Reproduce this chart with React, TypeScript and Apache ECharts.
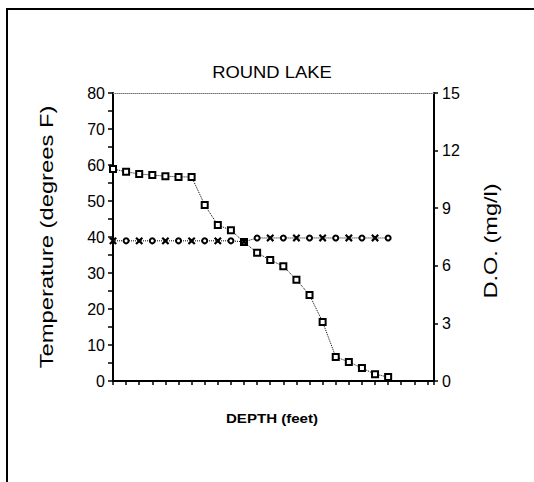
import React, { useEffect, useRef } from "react";
import * as echarts from "echarts";

const depth = [0, 1, 2, 3, 4, 5, 6, 7, 8, 9, 10, 11, 12, 13, 14, 15, 16, 17, 18, 19, 20, 21];
const temperature = [58.9, 58.1, 57.5, 57.2, 56.9, 56.7, 56.7, 48.9, 43.3, 41.9, 38.6, 35.6, 33.6, 31.9, 28.1, 23.9, 16.4, 6.7, 5.3, 3.6, 1.9, 1.1];
const dissolvedOxygen = [7.3, 7.3, 7.3, 7.3, 7.3, 7.3, 7.3, 7.3, 7.3, 7.3, 7.25, 7.45, 7.45, 7.45, 7.45, 7.45, 7.45, 7.45, 7.45, 7.45, 7.45, 7.45];
const title = "ROUND LAKE";
const xName = "DEPTH (feet)";
const yLeftName = "Temperature (degrees F)";
const yRightName = "D.O. (mg/l)";

const FONT = "'Liberation Sans', Arial, Helvetica, sans-serif";
const X_PATH = "path://M0,1L1,0L5,4L9,0L10,1L6,5L10,9L9,10L5,6L1,10L0,9L4,5Z";

export default function App() {
  const ref = useRef<HTMLDivElement>(null);
  useEffect(() => {
    if (!ref.current) return;
    const chart = echarts.init(ref.current, null, { renderer: "svg" });
    const tempData = depth.map((d, i) => [d, temperature[i]]);
    const doData = depth.map((d, i) => ({
      value: [d, dissolvedOxygen[i]],
      symbol: i % 2 === 0 ? X_PATH : "emptyCircle",
      symbolSize: i % 2 === 0 ? 6 : 5,
    }));
    chart.setOption({
      animation: false,
      backgroundColor: "#fff",
      textStyle: { fontFamily: FONT, color: "#000" },
      grid: { left: 113, right: 100, top: 93, bottom: 101 },
      xAxis: [
        {
          type: "value",
          min: 0,
          max: 24.5,
          interval: 1,
          position: "bottom",
          axisLine: { show: true, onZero: false, lineStyle: { color: "#000", width: 2 } },
          axisTick: { show: true, length: 4, lineStyle: { color: "#000", width: 1.5 } },
          axisLabel: { show: false },
          splitLine: { show: false },
        },
        {
          type: "value",
          min: 0,
          max: 24.5,
          position: "top",
          axisLine: { show: true, onZero: false, lineStyle: { color: "#777", width: 1, type: "dotted" } },
          axisTick: { show: false },
          axisLabel: { show: false },
          splitLine: { show: false },
        },
      ],
      yAxis: [
        {
          type: "value",
          min: 0,
          max: 80,
          interval: 10,
          position: "left",
          axisLine: { show: true, onZero: false, lineStyle: { color: "#000", width: 2 } },
          axisTick: { show: true, length: 5, lineStyle: { color: "#000", width: 1.5 } },
          minorTick: { show: true, splitNumber: 2, length: 5, lineStyle: { color: "#000", width: 1.5 } },
          axisLabel: { fontFamily: FONT, fontSize: 16, color: "#000", margin: 8 },
          splitLine: { show: false },
        },
        {
          type: "value",
          min: 0,
          max: 15,
          interval: 3,
          position: "right",
          axisLine: { show: true, onZero: false, lineStyle: { color: "#000", width: 2 } },
          axisTick: { show: true, length: 4, lineStyle: { color: "#000", width: 1.5 } },
          axisLabel: { fontFamily: FONT, fontSize: 16, color: "#000", margin: 8 },
          splitLine: { show: false },
        },
      ],
      series: [
        {
          type: "line",
          name: "Temperature",
          xAxisIndex: 0,
          yAxisIndex: 0,
          data: tempData,
          symbol: "emptyRect",
          symbolSize: 6,
          showAllSymbol: true,
          lineStyle: { color: "#000", width: 1, type: "dotted" },
          itemStyle: { color: "#000", borderColor: "#000", borderWidth: 1.3 },
        },
        {
          type: "line",
          name: "D.O.",
          xAxisIndex: 0,
          yAxisIndex: 1,
          data: doData,
          showAllSymbol: true,
          lineStyle: { color: "#000", width: 1, type: "dotted" },
          itemStyle: { color: "#000", borderColor: "#000", borderWidth: 1.3 },
        },
      ],
      graphic: [
        { type: "line", shape: { x1: 7, y1: 8, x2: 7, y2: 482 }, style: { stroke: "#000", lineWidth: 2 } },
        { type: "line", shape: { x1: 6, y1: 9, x2: 534, y2: 9 }, style: { stroke: "#000", lineWidth: 2 } },
        {
          type: "text",
          x: 272,
          y: 72,
          scaleX: 1.15,
          style: { text: title, font: `16px ${FONT}`, fill: "#000", align: "center", verticalAlign: "middle" },
        },
        {
          type: "text",
          x: 272,
          y: 418,
          scaleX: 1.16,
          style: { text: xName, font: `bold 13px ${FONT}`, fill: "#000", align: "center", verticalAlign: "middle" },
        },
        {
          type: "text",
          x: 47,
          y: 237,
          rotation: Math.PI / 2,
          scaleX: 1.32,
          style: { text: yLeftName, font: `18px ${FONT}`, fill: "#000", align: "center", verticalAlign: "middle" },
        },
        {
          type: "text",
          x: 491,
          y: 241,
          rotation: Math.PI / 2,
          scaleX: 1.31,
          style: { text: yRightName, font: `18px ${FONT}`, fill: "#000", align: "center", verticalAlign: "middle" },
        },
      ],
    });
    return () => chart.dispose();
  }, []);
  return (
    <div
      ref={ref}
      style={{ position: "absolute", left: 0, top: 0, width: 534, height: 482, background: "#fff" }}
    />
  );
}
